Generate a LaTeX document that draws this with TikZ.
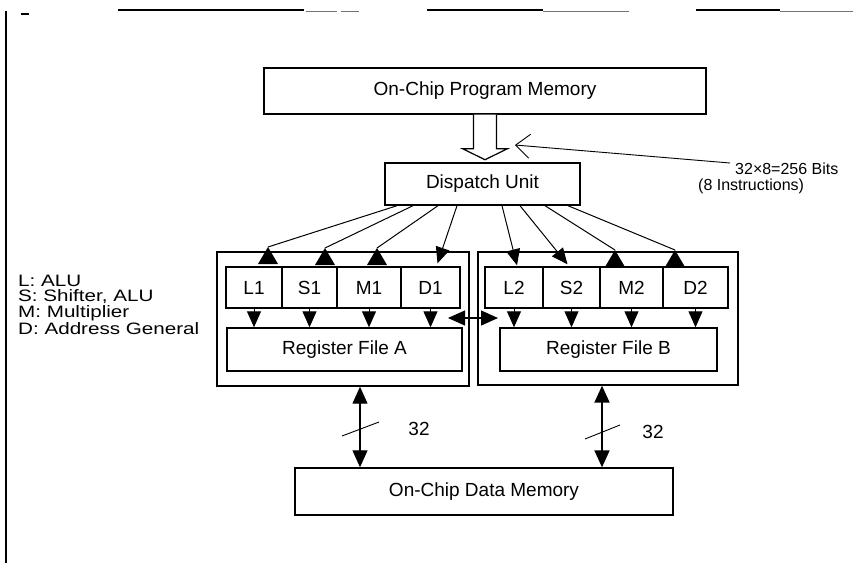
\documentclass[tikz,border=0pt]{standalone}
\usepackage{fontspec}
\setmainfont{Liberation Sans}
\newfontfamily\keyfont[FakeStretch=1.25]{Liberation Sans}
\usetikzlibrary{arrows.meta,calc}
\begin{document}
\begin{tikzpicture}[x=1pt,y=-1pt,
  lbl/.style={font=\fontsize{19}{21}\selectfont},
  blk/.style={draw,line width=1.4pt,inner sep=0pt,lbl},
  unitbox/.style={blk,minimum height=41pt},
  outer/.style={draw,line width=1.4pt,inner sep=0pt},
  legend/.style={anchor=west,inner sep=0pt,font=\keyfont\fontsize{16.5}{18}\selectfont},
  note/.style={anchor=west,inner sep=0pt,font=\fontsize{16}{18}\selectfont},
  head/.style={-{Triangle[length=16pt,width=14pt]},line width=1pt},
  twohead/.style={{Triangle[length=17pt,width=15pt]}-{Triangle[length=17pt,width=15pt]},line width=1.1pt},
  uptri/.style={fill=black},
  hollow/.style={draw,line width=1.2pt,fill=white,line join=miter},
  frame/.style={line width=1.2pt},
  faint/.style={line width=1.2pt,black!55}]
\useasboundingbox (0,0) rectangle (853,563);

% page frame fragments
\draw[frame] (6,11) -- (6,563);
\draw[frame] (21,14) -- (29,14);
\draw[frame] (118,10) -- (304,10);
\draw[faint] (306,11.5) -- (337,11.5) (341,11.5) -- (359,11.5);
\draw[frame] (427,10) -- (543,10);
\draw[faint] (543,11.5) -- (629,11.5);
\draw[frame] (696,10) -- (780,10);
\draw[faint] (780,11.5) -- (853,11.5);

% memories and dispatch
\node[blk,minimum width=442pt,minimum height=46pt] (pm) at (485,91) {On-Chip Program Memory};
\node[blk,minimum width=195pt,minimum height=42pt] (disp) at (482.5,184) {Dispatch Unit};
\node[blk,minimum width=378pt,minimum height=47pt] (dm) at (484,491.5) {On-Chip Data Memory};

% datapath A
\node[outer,minimum width=252pt,minimum height=134pt] (outA) at (343,319) {};
\node[unitbox,minimum width=56pt] (L1) at (254,287.5) {L1};
\node[unitbox,minimum width=55pt] (S1) at (309.5,287.5) {S1};
\node[unitbox,minimum width=64pt] (M1) at (369,287.5) {M1};
\node[unitbox,minimum width=59pt] (D1) at (430.5,287.5) {D1};
\node[blk,minimum width=235pt,minimum height=43pt] (regA) at (344.5,349.5) {Register File A};

% datapath B
\node[outer,minimum width=260pt,minimum height=133pt] (outB) at (608,318.5) {};
\node[unitbox,minimum width=58pt] (L2) at (514,287.5) {L2};
\node[unitbox,minimum width=57pt] (S2) at (571.5,287.5) {S2};
\node[unitbox,minimum width=63pt] (M2) at (631.5,287.5) {M2};
\node[unitbox,minimum width=65pt] (D2) at (695.5,287.5) {D2};
\node[blk,minimum width=217pt,minimum height=43pt] (regB) at (608.5,349.5) {Register File B};

% 256-bit fetch path
\draw[hollow] ([xshift=-11.5pt]pm.south) -- ++(0,34) -- ++(-11,0) -- ++(22.5,11)
  -- ++(22.5,-11) -- ++(-11,0) -- ++(0,-34);
\node[note] (bits) at (735,169) {32×8=256 Bits};
\node[note] (instr) at (698,186) {(8 Instructions)};
\coordinate (fetch) at (515,145);
\draw[line width=0.9pt,-{Straight Barb[length=14pt,width=24pt,line width=0.9pt]}]
  ([xshift=-5pt,yshift=6pt]bits.west) -- (fetch);

% dispatch to functional units
\coordinate (aL1) at (268,247);
\coordinate (aS1) at (325,248);
\coordinate (aM1) at (377,248);
\coordinate (aM2) at (615,250);
\coordinate (aD2) at (675,250);
\draw[line width=1pt] ([xshift=-85.5pt]disp.south) -- (aL1);
\draw[line width=1pt] ([xshift=-69.5pt]disp.south) -- (aS1);
\draw[line width=1pt] ([xshift=-44.5pt]disp.south) -- (aM1);
\draw[head] ([xshift=-25.5pt]disp.south) -- ([xshift=7pt,yshift=3pt]D1.north);
\draw[head] ([xshift=19.5pt]disp.south) -- ([xshift=3pt,yshift=1pt]L2.north);
\draw[head] ([xshift=37.5pt]disp.south) -- ([xshift=-4pt,yshift=2pt]S2.north);
\draw[line width=1pt] ([xshift=62.5pt]disp.south) -- (aM2);
\draw[line width=1pt] ([xshift=85.5pt]disp.south) -- (aD2);
\foreach \a in {aL1,aS1,aM1,aM2,aD2}
  \fill[uptri] (\a) -- ++(-10,17) -- ++(20,0) -- cycle;

% functional units to register files
\foreach \u in {L1,S1,M1,D1}
  \draw[head] (\u.south) -- (\u.south |- regA.north);
\foreach \u in {L2,S2,M2,D2}
  \draw[head] (\u.south) -- (\u.south |- regB.north);

% cross path between the two sides
\coordinate (xa) at (448,318);
\coordinate (xb) at (498,318);
\draw[twohead] (xa) -- (xb);

% 32-bit data buses
\draw[twohead,line width=1.1pt] ([xshift=17pt]outA.south) -- ([xshift=17pt]outA.south |- dm.north);
\draw[twohead,line width=2pt] ([xshift=-6pt]outB.south) -- ([xshift=-6pt]outB.south |- dm.north);
\draw[line width=0.9pt] (342,436) -- (379,422);
\draw[line width=0.9pt] (585,439) -- (620,425);
\node[lbl,inner sep=0pt] (wA) at (419,429) {32};
\node[lbl,inner sep=0pt] (wB) at (653,432) {32};

% legend
\node[legend] (lgL) at (18,281) {L: ALU};
\node[legend] (lgS) at (18,297) {S: Shifter, ALU};
\node[legend] (lgM) at (18,313) {M: Multiplier};
\node[legend] (lgD) at (18,329) {D: Address General};
\end{tikzpicture}
\end{document}
